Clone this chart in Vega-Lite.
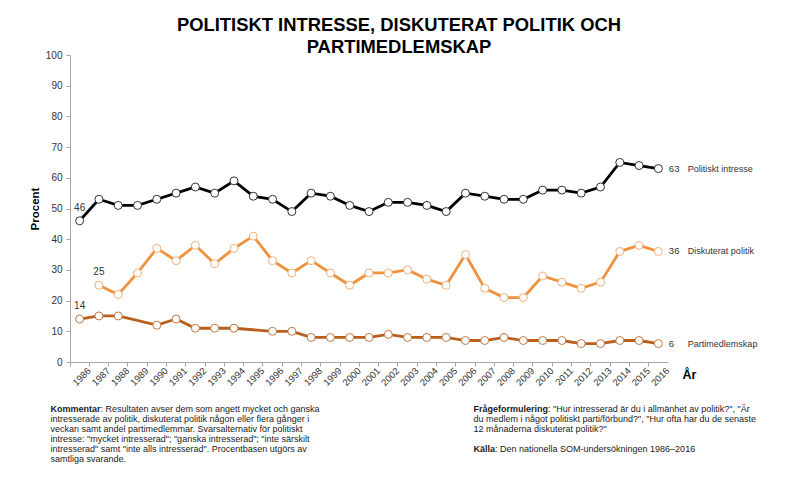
{
  "$schema": "https://vega.github.io/schema/vega-lite/v6.json",
  "padding": {"left": 29, "top": 16, "right": 5, "bottom": 0},
  "config": {"view": {"stroke": null}, "font": "Liberation Sans"},
  "spacing": 17,
  "vconcat": [
    {
      "width": 598,
      "height": 307,
      "title": {
        "text": ["POLITISKT INTRESSE, DISKUTERAT POLITIK OCH", "PARTIMEDLEMSKAP"],
        "fontSize": 18.4,
        "fontWeight": "bold",
        "lineHeight": 21.5,
        "anchor": "middle",
        "frame": "group",
        "dx": 30,
        "color": "#000000",
        "offset": -6
      },
      "data": {
        "values": [
          {"year": 1986, "series": "Politiskt intresse", "value": 46},
          {"year": 1987, "series": "Politiskt intresse", "value": 53},
          {"year": 1988, "series": "Politiskt intresse", "value": 51},
          {"year": 1989, "series": "Politiskt intresse", "value": 51},
          {"year": 1990, "series": "Politiskt intresse", "value": 53},
          {"year": 1991, "series": "Politiskt intresse", "value": 55},
          {"year": 1992, "series": "Politiskt intresse", "value": 57},
          {"year": 1993, "series": "Politiskt intresse", "value": 55},
          {"year": 1994, "series": "Politiskt intresse", "value": 59},
          {"year": 1995, "series": "Politiskt intresse", "value": 54},
          {"year": 1996, "series": "Politiskt intresse", "value": 53},
          {"year": 1997, "series": "Politiskt intresse", "value": 49},
          {"year": 1998, "series": "Politiskt intresse", "value": 55},
          {"year": 1999, "series": "Politiskt intresse", "value": 54},
          {"year": 2000, "series": "Politiskt intresse", "value": 51},
          {"year": 2001, "series": "Politiskt intresse", "value": 49},
          {"year": 2002, "series": "Politiskt intresse", "value": 52},
          {"year": 2003, "series": "Politiskt intresse", "value": 52},
          {"year": 2004, "series": "Politiskt intresse", "value": 51},
          {"year": 2005, "series": "Politiskt intresse", "value": 49},
          {"year": 2006, "series": "Politiskt intresse", "value": 55},
          {"year": 2007, "series": "Politiskt intresse", "value": 54},
          {"year": 2008, "series": "Politiskt intresse", "value": 53},
          {"year": 2009, "series": "Politiskt intresse", "value": 53},
          {"year": 2010, "series": "Politiskt intresse", "value": 56},
          {"year": 2011, "series": "Politiskt intresse", "value": 56},
          {"year": 2012, "series": "Politiskt intresse", "value": 55},
          {"year": 2013, "series": "Politiskt intresse", "value": 57},
          {"year": 2014, "series": "Politiskt intresse", "value": 65},
          {"year": 2015, "series": "Politiskt intresse", "value": 64},
          {"year": 2016, "series": "Politiskt intresse", "value": 63},
          {"year": 1987, "series": "Diskuterat politik", "value": 25},
          {"year": 1988, "series": "Diskuterat politik", "value": 22},
          {"year": 1989, "series": "Diskuterat politik", "value": 29},
          {"year": 1990, "series": "Diskuterat politik", "value": 37},
          {"year": 1991, "series": "Diskuterat politik", "value": 33},
          {"year": 1992, "series": "Diskuterat politik", "value": 38},
          {"year": 1993, "series": "Diskuterat politik", "value": 32},
          {"year": 1994, "series": "Diskuterat politik", "value": 37},
          {"year": 1995, "series": "Diskuterat politik", "value": 41},
          {"year": 1996, "series": "Diskuterat politik", "value": 33},
          {"year": 1997, "series": "Diskuterat politik", "value": 29},
          {"year": 1998, "series": "Diskuterat politik", "value": 33},
          {"year": 1999, "series": "Diskuterat politik", "value": 29},
          {"year": 2000, "series": "Diskuterat politik", "value": 25},
          {"year": 2001, "series": "Diskuterat politik", "value": 29},
          {"year": 2002, "series": "Diskuterat politik", "value": 29},
          {"year": 2003, "series": "Diskuterat politik", "value": 30},
          {"year": 2004, "series": "Diskuterat politik", "value": 27},
          {"year": 2005, "series": "Diskuterat politik", "value": 25},
          {"year": 2006, "series": "Diskuterat politik", "value": 35},
          {"year": 2007, "series": "Diskuterat politik", "value": 24},
          {"year": 2008, "series": "Diskuterat politik", "value": 21},
          {"year": 2009, "series": "Diskuterat politik", "value": 21},
          {"year": 2010, "series": "Diskuterat politik", "value": 28},
          {"year": 2011, "series": "Diskuterat politik", "value": 26},
          {"year": 2012, "series": "Diskuterat politik", "value": 24},
          {"year": 2013, "series": "Diskuterat politik", "value": 26},
          {"year": 2014, "series": "Diskuterat politik", "value": 36},
          {"year": 2015, "series": "Diskuterat politik", "value": 38},
          {"year": 2016, "series": "Diskuterat politik", "value": 36},
          {"year": 1986, "series": "Partimedlemskap", "value": 14},
          {"year": 1987, "series": "Partimedlemskap", "value": 15},
          {"year": 1988, "series": "Partimedlemskap", "value": 15},
          {"year": 1990, "series": "Partimedlemskap", "value": 12},
          {"year": 1991, "series": "Partimedlemskap", "value": 14},
          {"year": 1992, "series": "Partimedlemskap", "value": 11},
          {"year": 1993, "series": "Partimedlemskap", "value": 11},
          {"year": 1994, "series": "Partimedlemskap", "value": 11},
          {"year": 1996, "series": "Partimedlemskap", "value": 10},
          {"year": 1997, "series": "Partimedlemskap", "value": 10},
          {"year": 1998, "series": "Partimedlemskap", "value": 8},
          {"year": 1999, "series": "Partimedlemskap", "value": 8},
          {"year": 2000, "series": "Partimedlemskap", "value": 8},
          {"year": 2001, "series": "Partimedlemskap", "value": 8},
          {"year": 2002, "series": "Partimedlemskap", "value": 9},
          {"year": 2003, "series": "Partimedlemskap", "value": 8},
          {"year": 2004, "series": "Partimedlemskap", "value": 8},
          {"year": 2005, "series": "Partimedlemskap", "value": 8},
          {"year": 2006, "series": "Partimedlemskap", "value": 7},
          {"year": 2007, "series": "Partimedlemskap", "value": 7},
          {"year": 2008, "series": "Partimedlemskap", "value": 8},
          {"year": 2009, "series": "Partimedlemskap", "value": 7},
          {"year": 2010, "series": "Partimedlemskap", "value": 7},
          {"year": 2011, "series": "Partimedlemskap", "value": 7},
          {"year": 2012, "series": "Partimedlemskap", "value": 6},
          {"year": 2013, "series": "Partimedlemskap", "value": 6},
          {"year": 2014, "series": "Partimedlemskap", "value": 7},
          {"year": 2015, "series": "Partimedlemskap", "value": 7},
          {"year": 2016, "series": "Partimedlemskap", "value": 6}
        ]
      },
      "encoding": {
        "x": {
          "field": "year",
          "type": "ordinal",
          "bandPosition": 0.5,
          "scale": {"type": "band", "paddingInner": 0, "paddingOuter": 0},
          "axis": {
            "title": "År",
            "titleFontSize": 12.5,
            "titleFontWeight": "bold",
            "titleColor": "#000000",
            "titleAngle": 0,
            "titleAlign": "left",
            "titleBaseline": "middle",
            "titleX": 612,
            "titleY": 12,
            "labelAngle": -45,
            "labelAlign": "right",
            "labelBaseline": "middle",
            "labelFontSize": 9.5,
            "labelColor": "#333333",
            "labelPadding": 3,
            "bandPosition": 0,
            "labelOffset": 9.6,
            "domainColor": "#a6a6a6",
            "tickColor": "#a6a6a6",
            "tickSize": 4,
            "labelOverlap": false,
            "labelBound": false,
            "labelFlush": false
          }
        },
        "y": {
          "field": "value",
          "type": "quantitative",
          "scale": {"domain": [0, 100], "nice": false},
          "axis": {
            "title": "Procent",
            "titleFontSize": 11.5,
            "titleFontWeight": "bold",
            "titleColor": "#000000",
            "titlePadding": 4.5,
            "values": [0, 10, 20, 30, 40, 50, 60, 70, 80, 90, 100],
            "labelFontSize": 10,
            "labelColor": "#333333",
            "labelPadding": 4,
            "tickSize": 4,
            "domainColor": "#a6a6a6",
            "tickColor": "#a6a6a6",
            "grid": false
          }
        }
      },
      "layer": [
        {
          "mark": {"type": "line", "strokeWidth": 2.8},
          "encoding": {
            "color": {
              "field": "series",
              "type": "nominal",
              "scale": {
                "domain": ["Politiskt intresse", "Diskuterat politik", "Partimedlemskap"],
                "range": ["#000000", "#f0913d", "#b85f1e"]
              },
              "legend": null
            }
          }
        },
        {
          "mark": {"type": "point", "filled": false, "fill": "#ffffff", "size": 64, "strokeWidth": 1, "opacity": 1},
          "encoding": {
            "stroke": {
              "field": "series",
              "type": "nominal",
              "scale": {
                "domain": ["Politiskt intresse", "Diskuterat politik", "Partimedlemskap"],
                "range": ["#333333", "#f3b07a", "#c07a45"]
              },
              "legend": null
            }
          }
        },
        {
          "transform": [
            {"joinaggregate": [{"op": "min", "field": "year", "as": "firstYear"}], "groupby": ["series"]},
            {"filter": "datum.year == datum.firstYear"}
          ],
          "mark": {"type": "text", "dy": -13, "align": "center", "baseline": "middle", "fontSize": 10, "color": "#333333"},
          "encoding": {"text": {"field": "value", "type": "quantitative"}}
        },
        {
          "transform": [{"filter": "datum.year == 2016"}],
          "mark": {"type": "text", "dx": 10.5, "align": "left", "baseline": "middle", "fontSize": 9.5, "color": "#333333"},
          "encoding": {"text": {"field": "value", "type": "quantitative"}}
        },
        {
          "transform": [{"filter": "datum.year == 2016"}],
          "mark": {"type": "text", "dx": 29.5, "align": "left", "baseline": "middle", "fontSize": 9, "color": "#333333"},
          "encoding": {"text": {"field": "series", "type": "nominal"}}
        }
      ]
    },
    {
      "width": 423,
      "height": 50,
      "data": {
        "values": [
          {"block": "Kommentar", "line": 0, "text": "Kommentar", "bold": true},
          {"block": "Kommentar", "line": 0, "text": ": Resultaten avser dem som angett mycket och ganska", "follows": "Kommentar"},
          {"block": "Kommentar", "line": 1, "text": "intresserade av politik, diskuterat politik någon eller flera gånger i"},
          {"block": "Kommentar", "line": 2, "text": "veckan samt andel partimedlemmar. Svarsalternativ för politiskt"},
          {"block": "Kommentar", "line": 3, "text": "intresse: \"mycket intresserad\"; \"ganska intresserad\"; \"inte särskilt"},
          {"block": "Kommentar", "line": 4, "text": "intresserad\" samt \"inte alls intresserad\". Procentbasen utgörs av"},
          {"block": "Kommentar", "line": 5, "text": "samtliga svarande."},
          {"block": "Frågeformulering", "line": 0, "text": "Frågeformulering", "bold": true},
          {"block": "Frågeformulering", "line": 0, "text": ": \"Hur intresserad är du i allmänhet av politik?\", \"Är", "follows": "Frågeformulering"},
          {"block": "Frågeformulering", "line": 1, "text": "du medlem i något politiskt parti/förbund?\", \"Hur ofta har du de senaste"},
          {"block": "Frågeformulering", "line": 2, "text": "12 månaderna diskuterat politik?\""},
          {"block": "Frågeformulering", "line": 4, "text": "Källa", "bold": true},
          {"block": "Frågeformulering", "line": 4, "text": ": Den nationella SOM-undersökningen 1986–2016", "follows": "Källa"}
        ]
      },
      "encoding": {
        "x": {
          "field": "block",
          "type": "nominal",
          "scale": {"type": "point", "domain": ["Kommentar", "Frågeformulering"], "padding": 0},
          "axis": null
        },
        "y": {
          "field": "line",
          "type": "ordinal",
          "scale": {"type": "point", "padding": 0, "domain": [0, 1, 2, 3, 4, 5]},
          "axis": null
        },
        "text": {"field": "text", "type": "nominal"}
      },
      "layer": [
        {
          "transform": [{"filter": "datum.bold === true"}],
          "mark": {"type": "text", "align": "left", "baseline": "top", "fontSize": 9, "fontWeight": "bold", "dx": -19.5, "color": "#1a1a1a"}
        },
        {
          "transform": [{"filter": "datum.follows === 'Kommentar'"}],
          "mark": {"type": "text", "align": "left", "baseline": "top", "fontSize": 9, "dx": 30.5, "color": "#1a1a1a"}
        },
        {
          "transform": [{"filter": "datum.follows === 'Frågeformulering'"}],
          "mark": {"type": "text", "align": "left", "baseline": "top", "fontSize": 9, "dx": 55, "color": "#1a1a1a"}
        },
        {
          "transform": [{"filter": "datum.follows === 'Källa'"}],
          "mark": {"type": "text", "align": "left", "baseline": "top", "fontSize": 9, "dx": 2, "color": "#1a1a1a"}
        },
        {
          "transform": [{"filter": "!datum.bold && !datum.follows"}],
          "mark": {"type": "text", "align": "left", "baseline": "top", "fontSize": 9, "dx": -19.5, "color": "#1a1a1a"}
        }
      ]
    }
  ]
}
